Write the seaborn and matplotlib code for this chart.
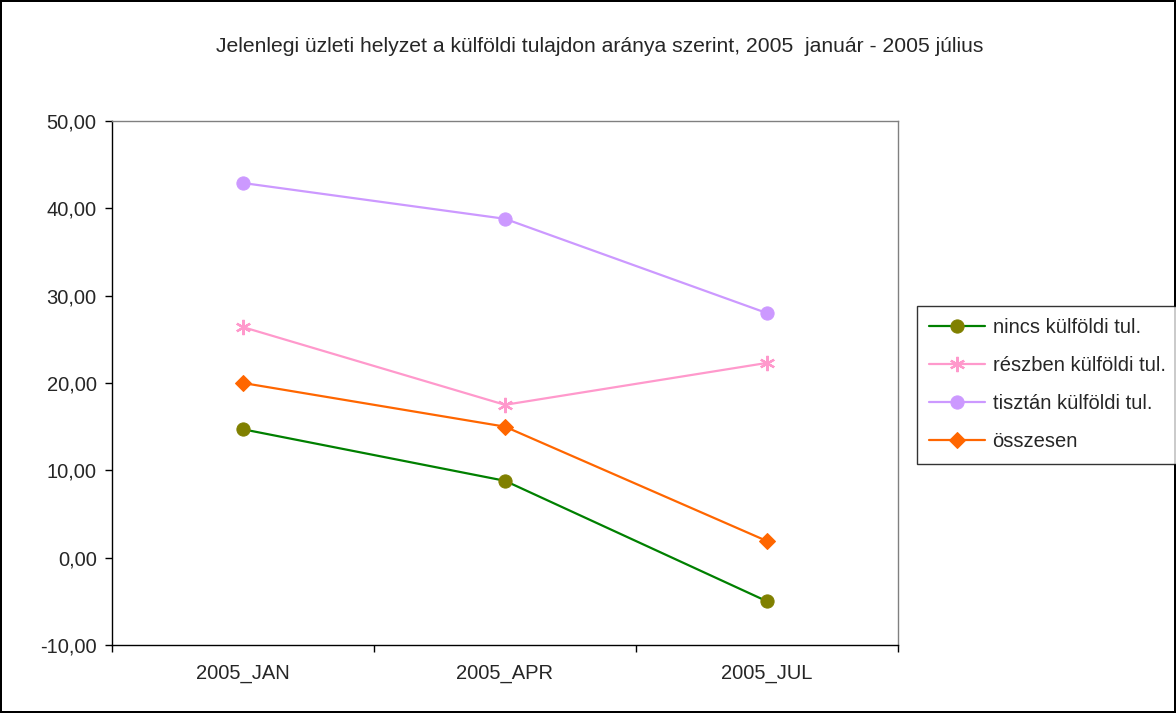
import numpy as np
import pandas as pd
import matplotlib
matplotlib.use('Agg')
import matplotlib.pyplot as plt
import seaborn as sns

# data
periods = ['2005_JAN', '2005_APR', '2005_JUL']
nincs = [14.7, 8.8, -5.0]
reszben = [26.4, 17.5, 22.3]
tisztan = [42.9, 38.8, 28.0]
osszesen = [20.0, 15.0, 1.9]
series_names = ['nincs külföldi tul.', 'részben külföldi tul.', 'tisztán külföldi tul.', 'összesen']
y_ticks = [-10, 0, 10, 20, 30, 40, 50]

sns.set_style('white')
plt.rcParams['font.family'] = ['Liberation Sans', 'DejaVu Sans']

fig = plt.figure(figsize=(11.76, 7.13), dpi=100)
fig.patch.set_edgecolor('black')
fig.patch.set_linewidth(1.5)
ax = fig.add_axes([0.0952, 0.0954, 0.6684, 0.7349])

styles = [
    dict(color='#008000', marker='o', markerfacecolor='#808000', markeredgecolor='#808000', markersize=9.5),
    dict(color='#FF99CC', marker=(6, 2, 0), markerfacecolor='#FF99CC', markeredgecolor='#FF99CC', markersize=11, markeredgewidth=1.6),
    dict(color='#CC99FF', marker='o', markerfacecolor='#CC99FF', markeredgecolor='#CC99FF', markersize=9.5),
    dict(color='#FF6600', marker='D', markerfacecolor='#FF6600', markeredgecolor='#FF6600', markersize=8.5),
]
for name, vals, st in zip(series_names, [nincs, reszben, tisztan, osszesen], styles):
    sns.lineplot(x=periods, y=vals, ax=ax, label=name, linewidth=1.6, **st)

fs = 14.5
ax.set_xlim(-0.5, 2.5)
ax.set_ylim(-10, 50)
ax.set_yticks(y_ticks)
ax.set_yticklabels([f'{v:.2f}'.replace('.', ',') for v in y_ticks], fontsize=fs)
ax.set_xticks(range(len(periods)))
ax.set_xticklabels(periods, fontsize=fs)
ax.set_xticks([-0.5, 0.5, 1.5, 2.5], minor=True)
ax.tick_params(axis='x', which='major', length=0, pad=14)
ax.tick_params(axis='x', which='minor', length=5, width=1, color='black', direction='out', bottom=True)
ax.tick_params(axis='y', length=5, width=1, color='black', direction='out', left=True, pad=6)
for s in ax.spines.values():
    s.set_color('#808080')
    s.set_linewidth(1)
ax.spines['left'].set_color('black')
ax.spines['bottom'].set_color('black')
ax.set_xlabel('')
ax.set_ylabel('')

ax.legend_.remove()
handles, labels = ax.get_legend_handles_labels()
leg = fig.legend(handles, labels, loc='upper left', bbox_to_anchor=(917 / 1176, 1 - 306 / 713),
                 frameon=True, fancybox=False, fontsize=fs, handlelength=2.8,
                 borderpad=0.6, labelspacing=0.95, handletextpad=0.35, borderaxespad=0)
leg.get_frame().set_edgecolor('black')
leg.get_frame().set_linewidth(1)

fig.text(0.51, 1 - 46 / 713, 'Jelenlegi üzleti helyzet a külföldi tulajdon aránya szerint, 2005  január - 2005 július',
         ha='center', va='center', fontsize=15.2)

fig.savefig('out.png', dpi=100, edgecolor=fig.get_edgecolor())
